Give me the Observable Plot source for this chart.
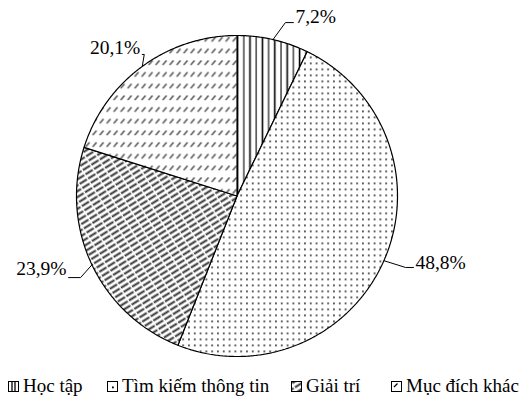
<!DOCTYPE html>
<html><head><meta charset="utf-8">
<script src="https://cdn.jsdelivr.net/npm/d3@7"></script>
<script src="https://cdn.jsdelivr.net/npm/@observablehq/plot@0.6"></script>
<style>
body{margin:0;background:#fff;font-family:"Liberation Serif","Times New Roman",Times,Tinos,"Nimbus Roman","Noto Serif","DejaVu Serif",FreeSerif,serif;}
#chart svg{display:block;}
#legend{position:relative;height:42px;font-size:19px;color:#000;}
.item{position:absolute;top:5px;height:22px;display:flex;align-items:center;white-space:nowrap;}
.item svg{margin-right:3px;}
</style></head><body>
<div id="chart"></div><div id="legend"></div>
<script>
// ---- data ----
const categories = ["Học tập", "Tìm kiếm thông tin", "Giải trí", "Mục đích khác"];
const values = [7.2, 48.8, 23.9, 20.1];
const labels = ["7,2%", "48,8%", "23,9%", "20,1%"];

// ---- layout (styling, not data) ----
const FONT = '"Liberation Serif", "Times New Roman", Times, Tinos, "Nimbus Roman", "Noto Serif", "DejaVu Serif", FreeSerif, serif';
const W = 525, H = 370, R = 160.5;
const patternIds = ["pHoc", "pTim", "pGiai", "pMuc"];
const leaderLayout = [
  {ex: 12.4, ey: -17, h: 8, side: 1, tdy: -5.5},
  {ex: 21.6, ey: 6.8, h: 8, side: 1, tdy: -5},
  {ex: -11.4, ey: 12.8, h: -12, side: -1, tdy: -8.5},
  {ex: 2, ey: -12, h: -2, side: -1, tdy: -7}
];
const px = v => v / R;

const arcs = d3.pie().sort(null).value(d => d)(values);
const slicePts = [];
arcs.forEach((a, i) => {
  const cat = categories[i];
  slicePts.push({cat, x: 0, y: 0});
  const n = Math.max(2, Math.ceil((a.endAngle - a.startAngle) / (Math.PI / 360)));
  for (let k = 0; k <= n; k++) {
    const t = a.startAngle + (a.endAngle - a.startAngle) * k / n;
    slicePts.push({cat, x: Math.sin(t), y: Math.cos(t)});
  }
  slicePts.push({cat, x: 0, y: 0});
});

const leaderPts = [];
const textPts = [];
arcs.forEach((a, i) => {
  const m = (a.startAngle + a.endAngle) / 2;
  const L = leaderLayout[i];
  const sx = Math.sin(m), sy = Math.cos(m);
  const ex = sx + px(L.ex), ey = sy - px(L.ey);
  const fx = ex + px(L.h), fy = ey;
  leaderPts.push({k: i, x: sx, y: sy}, {k: i, x: ex, y: ey}, {k: i, x: fx, y: fy});
  textPts.push({label: labels[i], side: L.side, x: fx + px(L.side * 2), y: fy - px(L.tdy)});
});

const svg = Plot.plot({
  width: W, height: H,
  marginLeft: 76, marginRight: W - 76 - 2 * R, marginTop: 35, marginBottom: H - 35 - 2 * R,
  x: {domain: [-1, 1], axis: null},
  y: {domain: [-1, 1], axis: null},
  color: {type: "ordinal", domain: categories, range: patternIds.map(d => `url(#${d})`)},
  style: {fontFamily: FONT, background: "white", overflow: "visible"},
  marks: [
    Plot.line(slicePts, {x: "x", y: "y", z: "cat", fill: "cat", stroke: "#000", strokeWidth: 1.2, curve: "linear", strokeLinejoin: "miter"}),
    Plot.line(leaderPts, {x: "x", y: "y", z: "k", stroke: "#000", strokeWidth: 1, curve: "linear"}),
    Plot.text(textPts.filter(d => d.side > 0), {x: "x", y: "y", text: "label", textAnchor: "start", fontSize: 19.5, fill: "#000", fontFamily: FONT}),
    Plot.text(textPts.filter(d => d.side < 0), {x: "x", y: "y", text: "label", textAnchor: "end", fontSize: 19.5, fill: "#000", fontFamily: FONT})
  ]
});

// patterns
const defs = d3.select(svg).insert("defs", ":first-child");
function pat(id, w, h, transform) {
  const p = defs.append("pattern").attr("id", id).attr("patternUnits", "userSpaceOnUse")
    .attr("width", w).attr("height", h);
  if (transform) p.attr("patternTransform", transform);
  p.append("rect").attr("width", w).attr("height", h).attr("fill", "white");
  return p;
}
let p = pat("pHoc", 12.4, 12);
p.append("line").attr("x1", 1.5).attr("x2", 1.5).attr("y1", 0).attr("y2", 12).attr("stroke", "#000").attr("stroke-width", 1.6);
p.append("line").attr("x1", 7.7).attr("x2", 7.7).attr("y1", 0).attr("y2", 12).attr("stroke", "#000").attr("stroke-width", 1.1);
p = pat("pTim", 5.8, 6);
p.append("rect").attr("x", 2).attr("y", 2).attr("width", 1.7).attr("height", 1.7).attr("fill", "#333");
p = pat("pGiai", 10, 5, "rotate(-32)");
p.append("line").attr("x1", 0).attr("x2", 10).attr("y1", 2.5).attr("y2", 2.5).attr("stroke", "#333").attr("stroke-width", 2).attr("stroke-dasharray", "8.5 1.5");
p = pat("pMuc", 7, 11.7);
p.append("line").attr("x1", 1.2).attr("y1", 6).attr("x2", 5).attr("y2", 1.5).attr("stroke", "#444").attr("stroke-width", 1.4);

document.getElementById("chart").appendChild(svg);

// legend
const legendLeft = [8, 107, 291, 391];
const legend = d3.select("#legend");
categories.forEach((c, i) => {
  const it = legend.append("div").attr("class", "item").style("left", legendLeft[i] + "px");
  const s = it.append("svg").attr("width", 12).attr("height", 12).style("margin-top", "2px");
  s.append("rect").attr("x", 0.5).attr("y", 0.5).attr("width", 10).attr("height", 10).attr("fill", "white").attr("stroke", "#000");
  if (i === 0) {
    s.append("line").attr("x1", 4).attr("x2", 4).attr("y1", 1).attr("y2", 10).attr("stroke", "#000").attr("stroke-width", 1.3);
    s.append("line").attr("x1", 7).attr("x2", 7).attr("y1", 1).attr("y2", 10).attr("stroke", "#000").attr("stroke-width", 1.3);
  } else if (i === 1) {
    s.append("rect").attr("x", 5).attr("y", 5.5).attr("width", 1.8).attr("height", 1.8).attr("fill", "#000");
  } else if (i === 2) {
    s.append("rect").attr("x", 1).attr("y", 1).attr("width", 9).attr("height", 9).attr("fill", "url(#pGiai)");
  } else {
    s.append("line").attr("x1", 3).attr("y1", 6).attr("x2", 6.5).attr("y2", 2.5).attr("stroke", "#000").attr("stroke-width", 1.2);
  }
  it.append("span").text(c);
});
</script>
</body></html>
